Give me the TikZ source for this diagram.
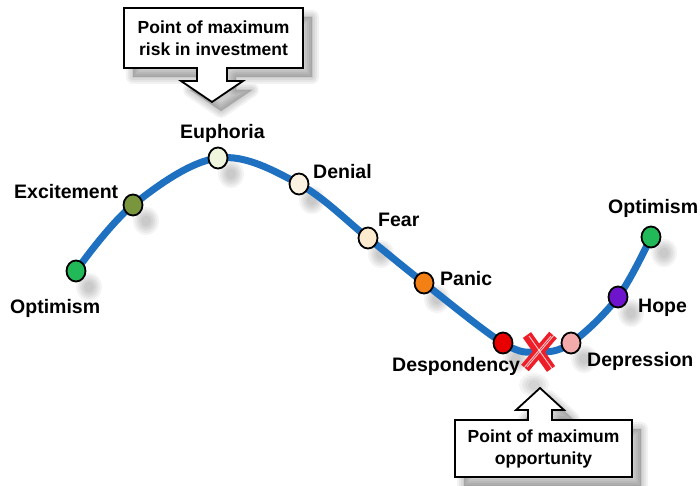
\documentclass[tikz,border=0pt]{standalone}
\usepackage{fontspec}
\setmainfont{Liberation Sans}
\usetikzlibrary{shapes.geometric}
\definecolor{curveblue}{RGB}{30,112,192}
\definecolor{cOpt}{RGB}{34,185,88}
\definecolor{cExc}{RGB}{122,150,60}
\definecolor{cEup}{RGB}{240,246,222}
\definecolor{cDen}{RGB}{251,242,226}
\definecolor{cFear}{RGB}{251,234,205}
\definecolor{cPan}{RGB}{242,128,20}
\definecolor{cDes}{RGB}{232,0,0}
\definecolor{cDep}{RGB}{242,170,170}
\definecolor{cHope}{RGB}{110,20,205}
\definecolor{xred}{RGB}{238,30,40}
\begin{document}
\begin{tikzpicture}[x=1pt,y=-1pt,
  lbl/.style={font=\fontsize{19.5}{22}\selectfont\bfseries, inner sep=0, anchor=base west},
  dot/.style={ellipse, draw=black, line width=1.8pt, minimum width=19pt, minimum height=21pt, inner sep=0},
  softshade/.style={fill=black, opacity=0.045},
  curve/.style={draw=curveblue, line width=7pt, line cap=round},
  callout/.style={draw=black, line width=1.8pt, fill=white, line join=miter},
  calloutshadow/.style={draw=black, fill=black, opacity=0.05, line join=round},
  calltext/.style={font=\fontsize{17.5}{22}\selectfont\bfseries, align=center, inner sep=0},
  xstroke/.style={draw=xred, line width=10pt},
  xhatch/.style={draw=white, line width=0.9pt, opacity=0.75}
]
\clip (0,0) rectangle (700,486);
\fill[white] (0,0) rectangle (700,486);

% curve points
\coordinate (p1) at (76,271);
\coordinate (p2) at (133,205);
\coordinate (p3) at (218,158);
\coordinate (p4) at (299,184);
\coordinate (p5) at (368,238);
\coordinate (p6) at (424,283);
\coordinate (p7) at (503,343);
\coordinate (pm) at (538,352);
\coordinate (p8) at (571,343);
\coordinate (p9) at (618,297);
\coordinate (p10) at (651,237);

% soft shadows of the dots
\foreach \p in {p1,p2,p3,p4,p5,p6,p7,p8,p9,p10}{
  \foreach \r in {13,11,9,7,5}{
    \fill[softshade] ([shift={(13,16)}]\p) ellipse ({\r} and {\r*1.1});
  }
}
% shadow of the X
\foreach \r in {15,12,9,6}{
  \fill[softshade] (534,385) ellipse ({\r} and {\r*0.8});
}

\draw[curve] plot[smooth, tension=0.6] coordinates {(p1) (p2) (p3) (p4) (p5) (p6) (p7) (pm) (p8) (p9) (p10)};

% dots
\node[dot, fill=cOpt]  (opt1) at (p1) {};
\node[dot, fill=cExc]  (exc)  at (p2) {};
\node[dot, fill=cEup]  (eup)  at (p3) {};
\node[dot, fill=cDen]  (den)  at (p4) {};
\node[dot, fill=cFear] (fear) at (p5) {};
\node[dot, fill=cPan]  (pan)  at (p6) {};
\node[dot, fill=cDes]  (des)  at (p7) {};
\node[dot, fill=cDep]  (dep)  at (p8) {};
\node[dot, fill=cHope] (hope) at (p9) {};
\node[dot, fill=cOpt]  (opt2) at (p10) {};

% red X
\coordinate (xa) at (527,335);
\coordinate (xb) at (551,369);
\coordinate (xd) at (553,335);
\coordinate (xe) at (525,368);
\draw[xstroke] (xa) -- (xb);
\draw[xstroke] (xd) -- (xe);
\draw[xhatch] ([shift={(-2,1)}]xd) -- ([shift={(-2,1)}]xe);
\draw[xhatch] ([shift={(2,-1)}]xd) -- ([shift={(2,-1)}]xe);
\draw[xhatch] ([shift={(2,1)}]xa) -- ([shift={(2,1)}]xb);

% labels
\node[lbl] (lEup)  at (180,139) {Euphoria};
\node[lbl] (lExc)  at (14,199)  {Excitement};
\node[lbl] (lOpt1) at (10,313)  {Optimism};
\node[lbl] (lDen)  at (313,179) {Denial};
\node[lbl] (lFear) at (378,226) {Fear};
\node[lbl] (lPan)  at (440,285) {Panic};
\node[lbl] (lDes)  at (392,371) {Despondency};
\node[lbl] (lDep)  at (587,366) {Depression};
\node[lbl] (lHope) at (638,312) {Hope};
\node[lbl] (lOpt2) at (608,213) {Optimism};

% callout shadows
\foreach \w in {14,10,6,2}{
  \path[calloutshadow, line width=\w pt, shift={(9,9)}] (124,8) -- (303,8) -- (303,68) -- (227,68) -- (227,81) -- (243,81)
    -- (212,102) -- (181,81) -- (197,81) -- (197,68) -- (124,68) -- cycle;
  \path[calloutshadow, line width=\w pt, shift={(9,9)}] (455,420) -- (528,420) -- (528,410) -- (516,410) -- (540,388)
    -- (564,410) -- (552,410) -- (552,420) -- (632,420) -- (632,477) -- (455,477) -- cycle;
}

% callouts
\path[callout] (124,8) -- (303,8) -- (303,68) -- (227,68) -- (227,81) -- (243,81)
  -- (212,102) -- (181,81) -- (197,81) -- (197,68) -- (124,68) -- cycle;
\node[calltext] (risk) at (213.5,38) {Point of maximum\\risk in investment};

\path[callout] (455,420) -- (528,420) -- (528,410) -- (516,410) -- (540,388)
  -- (564,410) -- (552,410) -- (552,420) -- (632,420) -- (632,477) -- (455,477) -- cycle;
\node[calltext] (opp) at (543.5,449) {Point of maximum\\opportunity};
\end{tikzpicture}
\end{document}
